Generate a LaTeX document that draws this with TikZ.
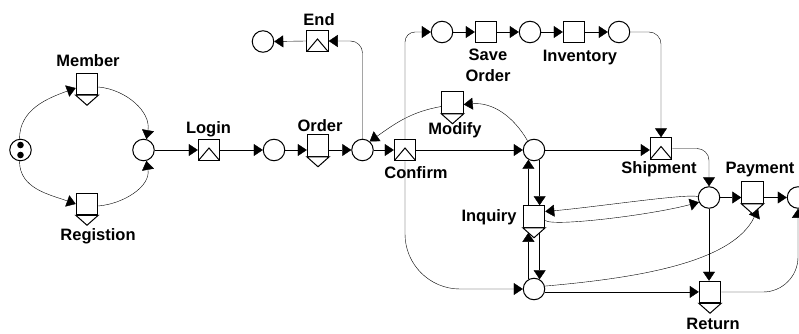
\documentclass[tikz,border=0pt]{standalone}
\usepackage{fontspec}
\setmainfont{Liberation Sans}
\usetikzlibrary{arrows.meta,calc}
\pgfdeclarelayer{wires}
\pgfsetlayers{wires,main}
\begin{document}
\begin{tikzpicture}[x=1pt,y=-1pt,line width=1pt,
  arr/.style={-{Triangle[length=9pt,width=12pt]}},
  place/.style={circle,draw,fill=white,minimum size=21.5pt,inner sep=0pt},
  taskbox/.style={rectangle,draw,fill=white,minimum size=21.5pt,inner sep=0pt},
  joinbox/.style={taskbox,path picture={
    \draw (path picture bounding box.south west)
      -- ($(path picture bounding box.center)+(0,-2)$)
      -- (path picture bounding box.south east);}},
  lbl/.style={font=\bfseries\fontsize{16.5}{21}\selectfont,inner sep=0pt,anchor=base},
]
\useasboundingbox (0,0) rectangle (799,334);

% places
\node[place] (start) at (20.5,150) {};
\fill ($(start)+(0,-5)$) circle (3.3pt);
\fill ($(start)+(0,5)$) circle (3.3pt);
\node[place] (c1) at (143.5,150) {};
\node[place] (c2) at (274,150) {};
\node[place] (c3) at (362.5,150) {};
\node[place] (cend) at (263,41.5) {};
\node[place] (t1) at (442,32) {};
\node[place] (t2) at (530,32) {};
\node[place] (t3) at (619,32) {};
\node[place] (c4) at (534,150) {};
\node[place] (c6) at (709,197.5) {};
\node[place] (c7) at (534,289) {};
\node[place] (c9) at (798,197.5) {};

% transitions with a split triangle below
\node[taskbox] (member) at (87,84) {};
\node[taskbox] (regist) at (87,204) {};
\node[taskbox] (order) at (318,145.5) {};
\node[taskbox] (modify) at (452.5,102.5) {};
\node[taskbox] (inquiry) at (534,216.5) {};
\node[taskbox] (payment) at (752.5,192.5) {};
\node[taskbox] (return) at (710,292) {};
\foreach \n in {member,regist,order,modify,inquiry,payment,return}
  \draw[fill=white] (\n.south west) -- (\n.south east) -- ($(\n.south)+(0,10)$) -- cycle;
\coordinate (paytip) at ($(payment.south)+(0,10)$);
\coordinate (payin) at ($(payment.south east)!0.5!(paytip)$);
\coordinate (inqin) at ($(inquiry.south)+(-5.5,5)$);

% transitions with a join triangle inside
\node[joinbox] (login) at (209,150) {};
\node[joinbox] (endbox) at (317.5,41) {};
\node[joinbox] (confirm) at (405,150) {};
\node[joinbox] (shipment) at (661,148.5) {};

% plain transitions
\node[taskbox] (saveorder) at (486,32) {};
\node[taskbox] (inventory) at (574,32) {};

% labels
\node[lbl] at (88,67) {Member};
\node[lbl] at (98,240) {Registion};
\node[lbl] at (208.5,133) {Login};
\node[lbl] at (320,131) {Order};
\node[lbl] at (319,26) {End};
\node[lbl,anchor=north,align=center] at (488,48) {Save\\Order};
\node[lbl] at (580,62) {Inventory};
\node[lbl] at (455,134) {Modify};
\node[lbl] at (416,178) {Confirm};
\node[lbl] at (659,173) {Shipment};
\node[lbl] at (760,173) {Payment};
\node[lbl,anchor=base east] at (517,221) {Inquiry};
\node[lbl] at (713,329) {Return};

\begin{pgfonlayer}{wires}
  % registration / login loop
  \draw[arr] (start.95) to[out=90,in=200] ([yshift=-4pt]member.west);
  \draw[arr] ([yshift=-3pt]member.east) to[out=-5,in=80] (c1.75);
  \draw[arr] (start.-95) to[out=-90,in=160] (regist.west);
  \draw[arr] ([yshift=-2pt]regist.east) to[out=5,in=-80] (c1.-75);
  % main line
  \draw[arr] (c1.east) -- (login.west);
  \draw[arr] (login.east) -- (c2.west);
  \draw[arr] (c2.east) -- (c2.east -| order.west);
  \draw[arr] (c3.west -| order.east) -- (c3.west);
  \draw[arr] (c3.east) -- (confirm.west);
  \draw[arr] (confirm.east) -- (c4.west);
  \draw[arr] (c4.east) -- (c4.east -| shipment.west);
  % end branch
  \draw[arr,rounded corners=12pt] (c3.north) |- (endbox.east);
  \draw[arr] (endbox.west) -- (cend.east);
  % modify loop
  \draw[arr] (c4.125) to[out=120,in=5] ([yshift=-2pt]modify.east);
  \draw[arr] ([yshift=-4pt]modify.west) to[out=190,in=35] (c3.50);
  % save order / inventory branch
  \draw[arr,rounded corners=10pt] (confirm.north) |- (t1.west);
  \draw[arr] (t1.east) -- (saveorder.west);
  \draw[arr] (saveorder.east) -- (t2.west);
  \draw[arr] (t2.east) -- (inventory.west);
  \draw[arr] (inventory.east) -- (t3.west);
  \draw[arr,rounded corners=12pt] (t3.east) -| (shipment.north);
  \draw[arr,rounded corners=12pt] (shipment.east) -| (c6.north);
  % lower branch
  \draw[arr,rounded corners=55pt] (confirm.south) |- (c7.west);
  % inquiry
  \draw[arr] (c4.-60) -- (c4.-60 |- inquiry.north);
  \draw[arr] (inquiry.north -| c4.-120) -- (c4.-120);
  \draw[arr] (c7.60 |- inquiry.south) -- (c7.60);
  \draw[arr] (c7.120) -- (c7.120 |- inqin);
  \draw[arr] (c6.175) to[out=165,in=5,out distance=12pt,in distance=50pt] ([yshift=5pt]inquiry.east);
  \draw[arr] ([yshift=-4pt]inquiry.east) to[out=-40,in=195,out distance=10pt,in distance=50pt] (c6.205);
  % payment and return
  \draw[arr] (c6.east) -- (c6.east -| payment.west);
  \draw[arr] (c9.west -| payment.east) -- (c9.west);
  \draw[arr] (c6.south) -- (c6.south |- return.north);
  \draw[arr] (c7.-15) -- (c7.-15 -| return.west);
  \draw[arr] (c7.15) to[out=5,in=245,out distance=90pt,in distance=60pt] (payin);
  \draw[arr,rounded corners=35pt] (return.east) -| (c9.south);
\end{pgfonlayer}
\end{tikzpicture}
\end{document}
